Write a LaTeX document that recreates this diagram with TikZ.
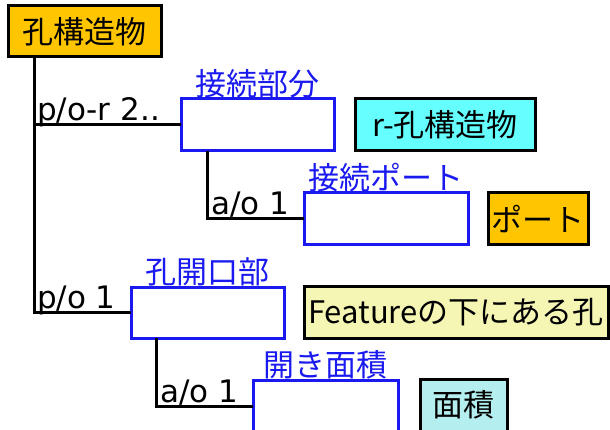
\documentclass[tikz,border=0pt]{standalone}
\usepackage{fontspec}
\setmainfont{Noto Sans CJK JP}
\newfontfamily\multfont{DejaVu Sans}
\usepackage{tikz}
\usetikzlibrary{positioning}
\usetikzlibrary{calc}

\definecolor{typeorange}{HTML}{FFC600}
\definecolor{typecyan}{HTML}{66FFFF}
\definecolor{typeyellow}{HTML}{F5F5B4}
\definecolor{typeaqua}{HTML}{B4EEEE}
\definecolor{partblue}{HTML}{1A1AF0}

\begin{document}
\begin{tikzpicture}[x=1pt, y=-1pt, line cap=rect, line join=miter,
		every node/.style={font=\fontsize{31}{34}\selectfont},
		typebox/.style={draw=black, line width=3pt, inner sep=0pt, minimum height=52pt},
		partbox/.style={draw=partblue, fill=white, line width=3pt, inner sep=0pt, minimum height=52pt},
		partname/.style={text=partblue, inner sep=0pt, label distance=-3pt, font=\fontsize{31}{34}\selectfont},
		link/.style={line width=3pt},
		mult/.style={inner sep=0pt, anchor=base west, font=\multfont\fontsize{31}{34}\selectfont}]
			\clip (0,0) rectangle (610,430);
			
			% root structure
			\node[typebox, fill=typeorange, minimum width=153pt, minimum height=51pt] (kou) at (84.5,31.5) {孔構造物};
			
			% first level parts
			\node[partbox, minimum width=153pt, label={[partname]above:\underline{接続部分}}] (setsu) at (257.5,125) {};
			\node[typebox, fill=typecyan, minimum width=180pt] (rkou) at (445,125) {r-孔構造物};
			\node[partbox, minimum width=153pt, minimum height=51pt, label={[partname]above:\underline{孔開口部}}] (kaiko) at (207.5,312.5) {};
			\node[typebox, fill=typeyellow, minimum width=304pt] (feat) at (456,312) {Featureの下にある孔};
			
			% second level parts
			\node[partbox, minimum width=164pt, label={[partname]above:\underline{接続ポート}}] (cport) at (386,219) {};
			\node[typebox, fill=typeorange, minimum width=100pt] (port) at (538,219) {ポート};
			\node[partbox, minimum width=145pt, label={[partname]above:\underline{開き面積}}] (kaiki) at (325.5,406) {};
			\node[typebox, fill=typeaqua, minimum width=87pt] (men) at (463.5,405) {面積};
			
			% spine from the root
			\coordinate (s0) at ($(kou.south west)+(28,0)$);
			\draw[link] (s0) |- (kaiko.west) node[pos=0.5, mult, xshift=1pt, yshift=4pt] (m3) {p/o 1};
			\draw[link] (s0 |- setsu.west) -- (setsu.west) node[pos=0, mult, xshift=1pt, yshift=4pt] (m1) {p/o-r 2..};
			
			% branches to the ports and areas
			\coordinate (s1) at ($(setsu.south west)+(28,0)$);
			\draw[link] (s1) |- (cport.west) node[pos=0.5, mult, xshift=2pt, yshift=4pt] (m2) {a/o 1};
			\coordinate (s2) at ($(kaiko.south west)+(27,0)$);
			\draw[link] (s2) |- (kaiki.west) node[pos=0.5, mult, xshift=2pt, yshift=4pt] (m4) {a/o 1};
		\end{tikzpicture}
\end{document}
